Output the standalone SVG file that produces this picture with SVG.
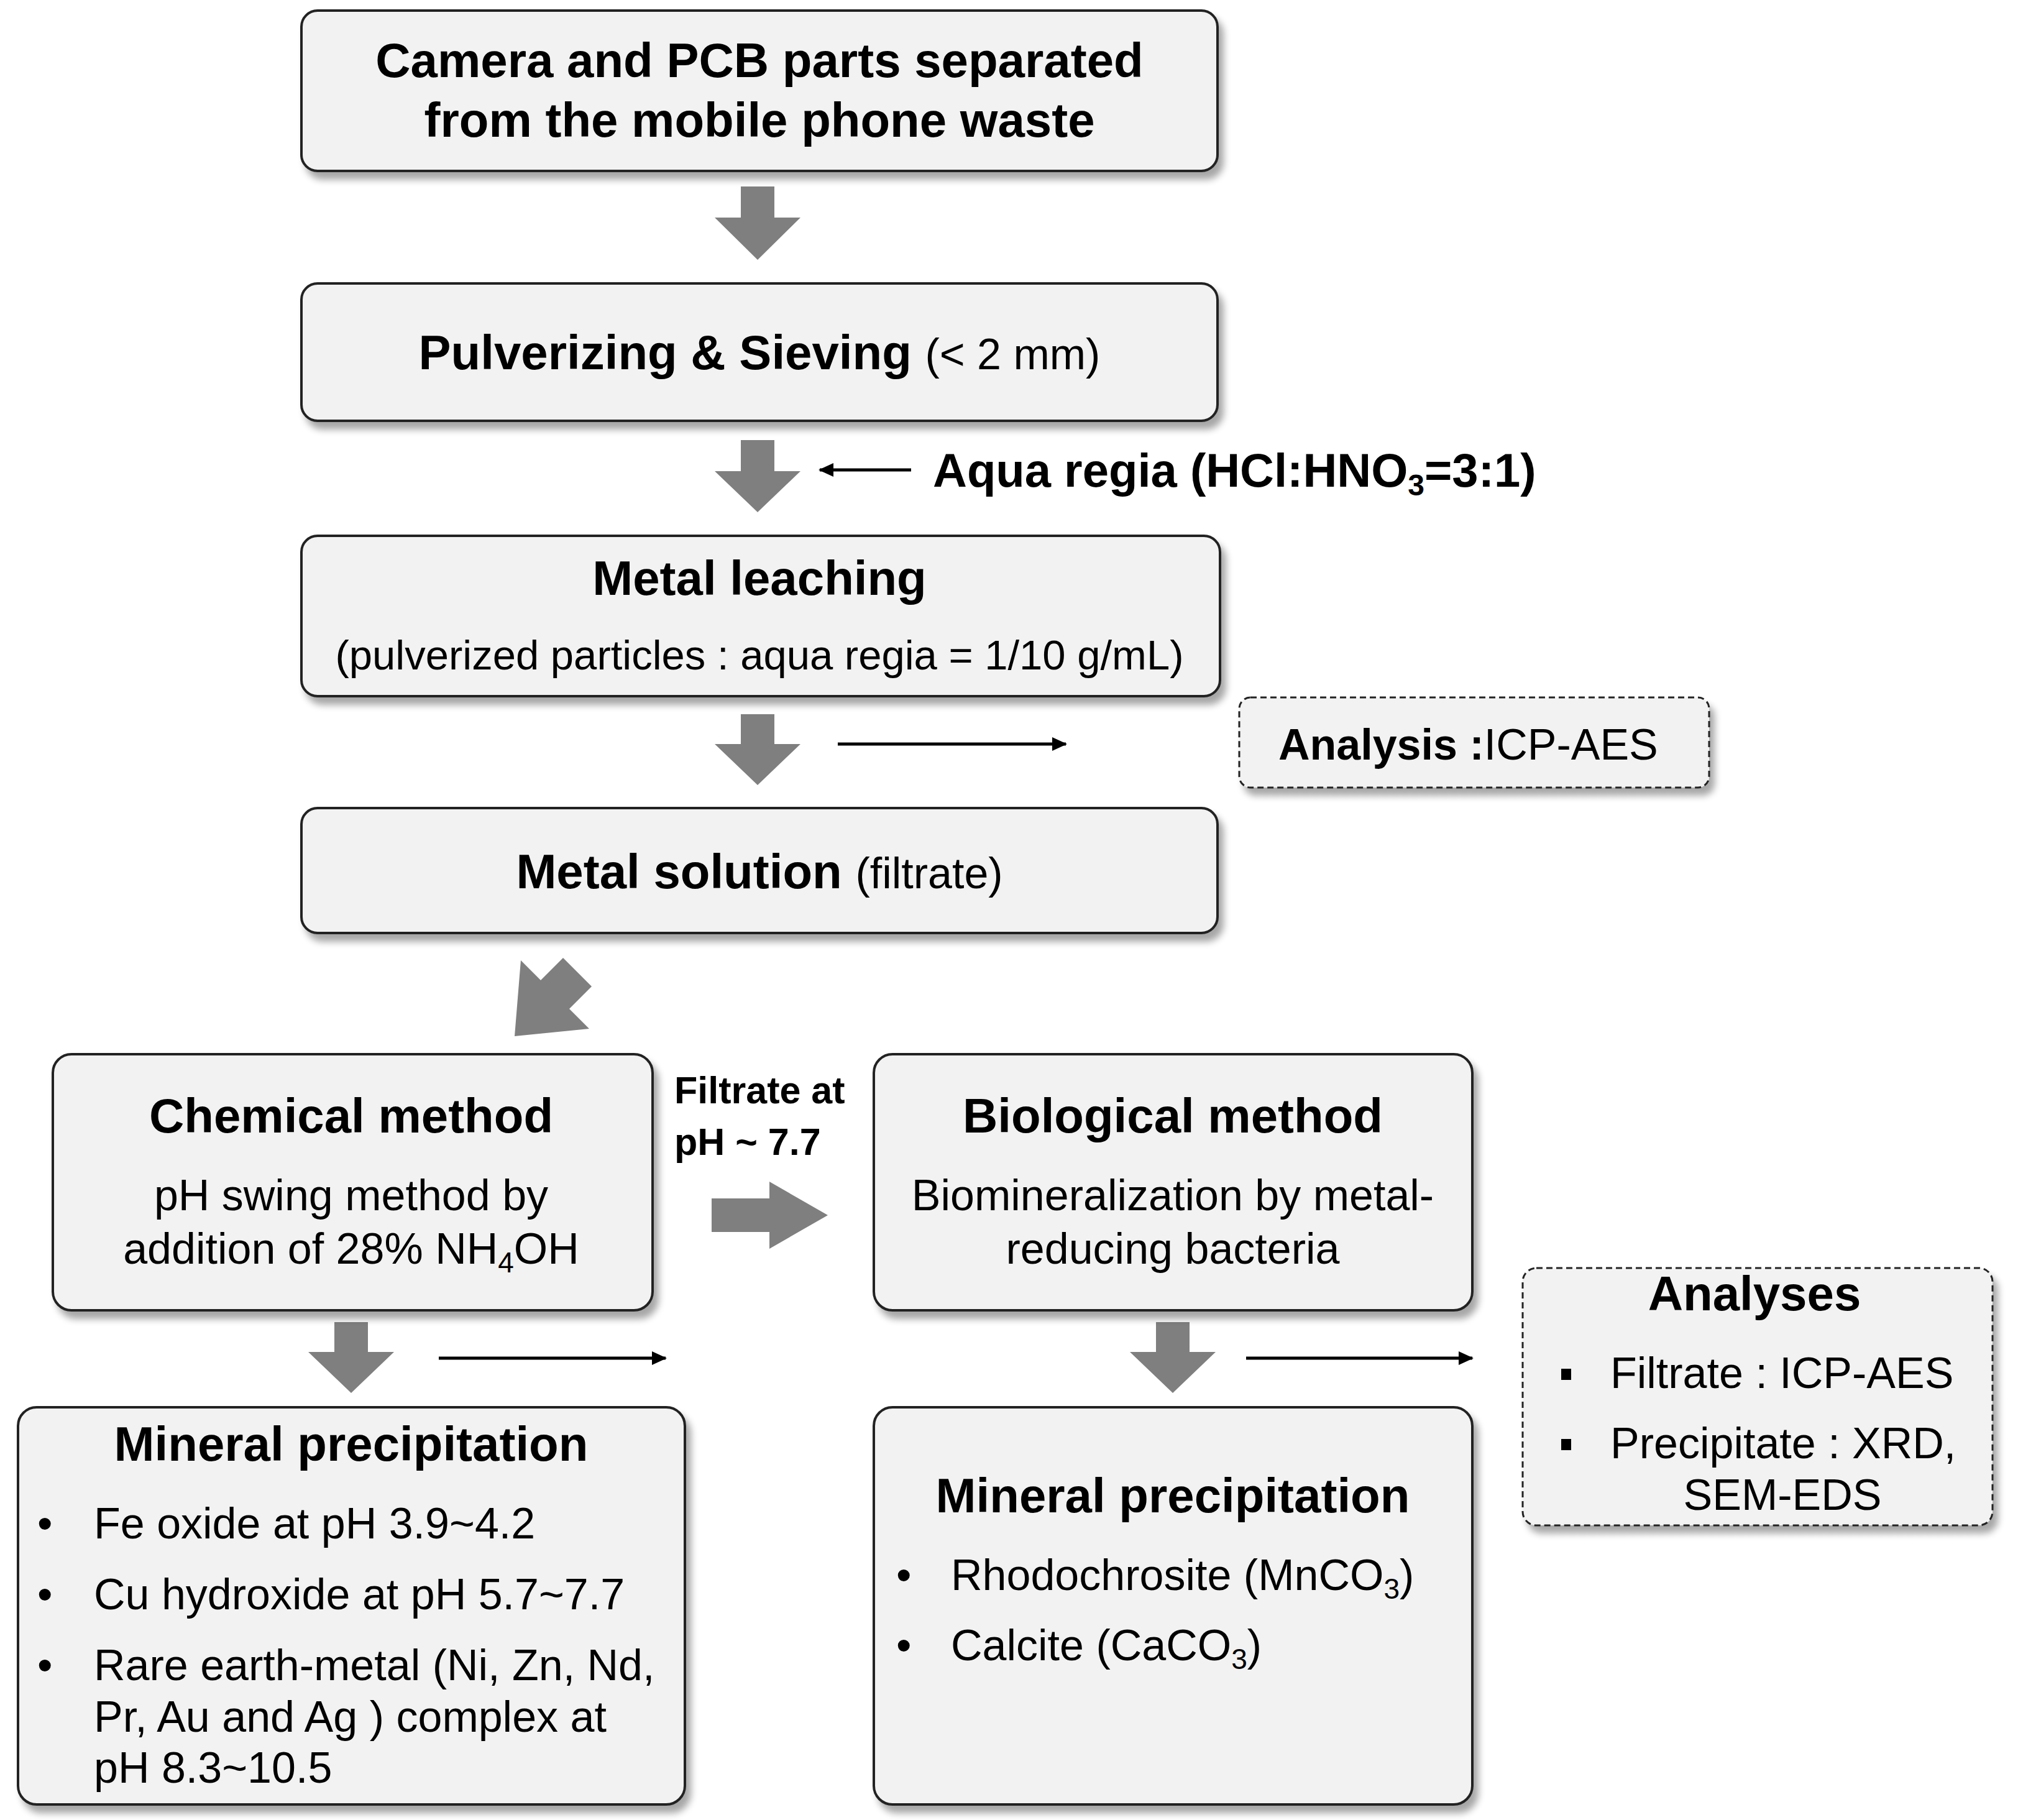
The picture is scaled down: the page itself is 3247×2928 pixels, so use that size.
<svg xmlns="http://www.w3.org/2000/svg" width="3247" height="2928" viewBox="0 0 3247 2928">
<defs>
<filter id="sh" x="-5%" y="-5%" width="115%" height="125%"><feGaussianBlur in="SourceAlpha" stdDeviation="6"/><feOffset dx="8" dy="12"/><feComponentTransfer><feFuncA type="linear" slope="0.35"/></feComponentTransfer><feMerge><feMergeNode/><feMergeNode in="SourceGraphic"/></feMerge></filter>
<marker id="ah" markerWidth="24" markerHeight="22" refX="22" refY="11" orient="auto" markerUnits="userSpaceOnUse" viewBox="0 0 24 22"><path d="M0,0 L24,11 L0,22 Z" fill="#000"/></marker>
</defs>
<style>
.box{fill:#f2f2f2;stroke:#222;stroke-width:4;filter:url(#sh)}
.dash{fill:#f2f2f2;stroke:#222;stroke-width:3;stroke-dasharray:10 6;filter:url(#sh)}
text{font-family:"Liberation Sans",Arial,sans-serif;fill:#000}
.b{font-weight:bold;font-size:78px}
.n{font-size:70px}
.s{font-size:67px}
.m{text-anchor:middle}
.blk{fill:#7f7f7f}
.thin{stroke:#000;stroke-width:5;fill:none}
</style>
<rect width="3247" height="2928" fill="#fff"/>
<g id="connectors">
<path class="blk" d="M1192,300 H1246 V350 H1288 L1219,418 L1150,350 H1192 Z"/>
<path class="blk" d="M1192,708 H1246 V758 H1288 L1219,824 L1150,758 H1192 Z"/>
<path class="blk" d="M1192,1149 H1246 V1197 H1288 L1219,1263 L1150,1197 H1192 Z"/>
<path class="blk" d="M828,1667 L838,1545 L870,1577 L906,1541 L952,1587 L916,1623 L948,1655 Z"/>
<path class="blk" d="M1145,1928 H1238 V1901 L1332,1955 L1238,2009 V1982 H1145 Z"/>
<path class="blk" d="M538,2127 H592 V2175 H634 L565,2241 L496,2175 H538 Z"/>
<path class="blk" d="M1860,2127 H1914 V2175 H1956 L1887,2241 L1818,2175 H1860 Z"/>
<line class="thin" x1="1466" y1="756" x2="1319" y2="756" marker-end="url(#ah)"/>
<line class="thin" x1="1348" y1="1197" x2="1715" y2="1197" marker-end="url(#ah)"/>
<line class="thin" x1="706" y1="2185" x2="1071" y2="2185" marker-end="url(#ah)"/>
<line class="thin" x1="2005" y1="2185" x2="2369" y2="2185" marker-end="url(#ah)"/>
<text class="b" x="1501" y="783" style="font-size:76px">Aqua regia (HCl:HNO<tspan font-size="48" dy="14">3</tspan><tspan dy="-14">=3:1)</tspan></text>
<text class="b" x="1085" y="1775" style="font-size:61px">Filtrate at</text>
<text class="b" x="1085" y="1858" style="font-size:61px">pH ~ 7.7</text>
</g>
<g id="n1"><rect class="box" x="485" y="17" width="1474" height="258" rx="26"/>
<text class="b m" x="1222" y="124">Camera and PCB parts separated</text>
<text class="b m" x="1222" y="220">from the mobile phone waste</text></g>
<g id="n2"><rect class="box" x="485" y="456" width="1474" height="221" rx="26"/>
<text class="m" x="1222" y="594"><tspan class="b">Pulverizing &amp; Sieving </tspan><tspan class="n">(&lt; 2 mm)</tspan></text></g>
<g id="n3"><rect class="box" x="485" y="862" width="1478" height="258" rx="26"/>
<text class="b m" x="1222" y="957">Metal leaching</text>
<text class="s m" x="1222" y="1077">(pulverized particles : aqua regia = 1/10 g/mL)</text></g>
<g id="n4"><rect class="dash" x="1994" y="1122" width="756" height="145" rx="18"/>
<text x="2057" y="1222"><tspan class="b" style="font-size:70px">Analysis :</tspan><tspan class="n">ICP-AES</tspan></text></g>
<g id="n5"><rect class="box" x="485" y="1300" width="1474" height="201" rx="26"/>
<text class="m" x="1222" y="1429"><tspan class="b">Metal solution </tspan><tspan class="n">(filtrate)</tspan></text></g>
<g id="n6"><rect class="box" x="85" y="1696" width="965" height="412" rx="30"/>
<text class="b m" x="565" y="1822">Chemical method</text>
<text class="n m" x="565" y="1947">pH swing method by</text>
<text class="n m" x="565" y="2033">addition of 28% NH<tspan font-size="46" dy="14">4</tspan><tspan dy="-14">OH</tspan></text></g>
<g id="n7"><rect class="box" x="1406" y="1696" width="963" height="412" rx="30"/>
<text class="b m" x="1887" y="1822">Biological method</text>
<text class="n m" x="1887" y="1947">Biomineralization by metal-</text>
<text class="n m" x="1887" y="2033">reducing bacteria</text></g>
<g id="n8"><rect class="dash" x="2450" y="2040" width="756" height="414" rx="22"/>
<text class="b m" x="2823" y="2108">Analyses</text>
<rect x="2512" y="2202" width="16" height="18" fill="#000"/>
<text class="n" x="2591" y="2233">Filtrate : ICP-AES</text>
<rect x="2512" y="2315" width="16" height="18" fill="#000"/>
<text class="n" x="2591" y="2346">Precipitate : XRD,</text>
<text class="n m" x="2868" y="2429">SEM-EDS</text></g>
<g id="n9"><rect class="box" x="29" y="2264" width="1073" height="639" rx="30"/>
<text class="b m" x="565" y="2350">Mineral precipitation</text>
<text class="n" x="60" y="2475">•</text><text class="n" x="151" y="2475">Fe oxide at pH 3.9~4.2</text>
<text class="n" x="60" y="2589">•</text><text class="n" x="151" y="2589">Cu hydroxide at pH 5.7~7.7</text>
<text class="n" x="60" y="2703">•</text><text class="n" x="151" y="2703">Rare earth-metal (Ni, Zn, Nd,</text>
<text class="n" x="151" y="2786">Pr, Au and Ag ) complex at</text>
<text class="n" x="151" y="2868">pH 8.3~10.5</text></g>
<g id="n10"><rect class="box" x="1406" y="2264" width="963" height="639" rx="30"/>
<text class="b m" x="1887" y="2433">Mineral precipitation</text>
<text class="n" x="1442" y="2558">•</text><text class="n" x="1530" y="2558">Rhodochrosite (MnCO<tspan font-size="46" dy="14">3</tspan><tspan dy="-14">)</tspan></text>
<text class="n" x="1442" y="2671">•</text><text class="n" x="1530" y="2671">Calcite (CaCO<tspan font-size="46" dy="14">3</tspan><tspan dy="-14">)</tspan></text></g>
</svg>
